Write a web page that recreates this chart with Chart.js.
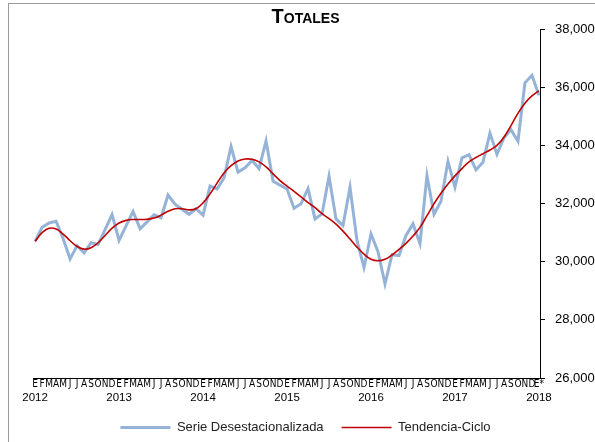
<!DOCTYPE html>
<html lang="es">
<head>
<meta charset="UTF-8">
<title>Totales</title>
<script src="https://cdn.jsdelivr.net/npm/chart.js"></script>
<style>
  html, body { margin: 0; padding: 0; background: #fff; overflow: hidden; }
  #wrap { position: relative; width: 595px; height: 442px; }
  #frame { position: absolute; left: 8px; top: 3px; width: 620px; height: 470px; border: 1px solid #9a9a9a; pointer-events: none; }
</style>
</head>
<body>
<div id="wrap">
  <canvas id="chart" width="595" height="442"></canvas>
  <div id="frame"></div>
</div>
<script>
// etiquetas del eje X
const mesesLetras = ['E','F','M','A','M','J','J','A','S','O','N','D'];
const anios = ['2012','2013','2014','2015','2016','2017','2018'];

// ene-2012 ... ene-2018 (73 meses)
const serieDesest = [
  30700, 31180, 31330, 31390, 30800, 30090, 30550, 30300, 30650, 30590, 31100, 31620,
  30730, 31230, 31730, 31130, 31370, 31610, 31510, 32290, 31980, 31800, 31630, 31820,
  31600, 32600, 32500, 32880, 33960, 33080, 33230, 33480, 33200, 34150, 32770, 32630,
  32500, 31840, 31990, 32510, 31470, 31640, 32940, 31470, 31240, 32560, 30720, 29800,
  30950, 30340, 29230, 30240, 30210, 30900, 31300, 30620, 32960, 31630, 32080, 33450,
  32560, 33570, 33680, 33160, 33420, 34420, 33690, 34260, 34540, 34140, 36150, 36410,
  35720
];
const tendenciaCiclo = [
  30700, 31000, 31150, 31120, 30950, 30720, 30520, 30430, 30480, 30650, 30900, 31150,
  31330, 31420, 31450, 31450, 31460, 31500, 31600, 31730, 31820, 31820, 31780, 31820,
  32020, 32330, 32700, 33050, 33300, 33460, 33530, 33520, 33430, 33260, 33020, 32790,
  32600, 32420, 32230, 32030, 31860, 31650, 31480, 31290, 31050, 30780, 30500, 30260,
  30080, 30030, 30080, 30230, 30420, 30630, 30880, 31180, 31580, 31990, 32350, 32670,
  32950, 33200, 33430, 33580, 33710, 33840, 34000, 34280, 34680, 35100, 35450, 35700,
  35870
];

const toXY = arr => arr.map((v, i) => ({ x: i, y: v }));
const FONT = "'Liberation Sans', Arial, sans-serif";
const xMin = -0.3, xMax = 72.15;

new Chart(document.getElementById('chart').getContext('2d'), {
  type: 'line',
  data: {
    datasets: [
      {
        label: 'Serie Desestacionalizada',
        data: toXY(serieDesest),
        borderColor: '#95B3D7',
        backgroundColor: '#95B3D7',
        borderWidth: 3,
        pointRadius: 0,
        tension: 0,
        yAxisID: 'y',
        order: 2
      },
      {
        label: 'Tendencia-Ciclo',
        data: toXY(tendenciaCiclo),
        borderColor: '#C00000',
        backgroundColor: '#C00000',
        borderWidth: 1.6,
        pointRadius: 0,
        tension: 0.4,
        yAxisID: 'y',
        order: 1
      }
    ]
  },
  options: {
    responsive: false,
    devicePixelRatio: 1,
    animation: false,
    layout: { padding: { left: 16, right: 0, top: 0, bottom: -2 } },
    plugins: {
      title: {
        display: true,
        text: 'Totales',
        color: '#000',
        font: { family: FONT, size: 20, weight: 'small-caps bold' },
        padding: { top: 5, bottom: 0 }
      },
      legend: {
        position: 'bottom',
        labels: {
          color: '#222',
          font: { family: FONT, size: 13 },
          usePointStyle: true,
          pointStyle: 'line',
          pointStyleWidth: 50,
          padding: 18,
          sort: (a, b) => a.datasetIndex - b.datasetIndex
        }
      },
      tooltip: { enabled: false }
    },
    scales: {
      x: {
        type: 'linear',
        position: 'bottom',
        min: xMin,
        max: xMax,
        weight: 0,
        grid: { display: false, drawTicks: false },
        border: { display: true, color: '#000', width: 1 },
        afterBuildTicks: s => { s.ticks = serieDesest.map((v, i) => ({ value: i })); },
        afterFit: s => { s.height = 13; },
        ticks: {
          autoSkip: false,
          maxRotation: 0,
          padding: 0,
          color: '#000',
          font: { family: "'Liberation Sans Narrow', 'DejaVu Sans Condensed', sans-serif", size: 10 },
          callback: v => (v === serieDesest.length - 1 ? 'E*' : mesesLetras[v % 12])
        }
      },
      xAnio: {
        type: 'linear',
        position: 'bottom',
        min: xMin,
        max: xMax,
        weight: 1,
        grid: { display: false, drawTicks: false },
        border: { display: false },
        afterBuildTicks: s => { s.ticks = anios.map((a, i) => ({ value: i * 12 })); },
        afterFit: s => { s.height = 12; },
        ticks: {
          autoSkip: false,
          maxRotation: 0,
          padding: 0,
          color: '#000',
          font: { family: FONT, size: 11.5 },
          callback: v => anios[v / 12]
        }
      },
      yl: {
        type: 'linear',
        position: 'left',
        display: true,
        grid: { display: false, drawTicks: false },
        border: { display: false },
        ticks: { display: false },
        afterFit: s => { s.width = 17; }
      },
      y: {
        type: 'linear',
        position: 'right',
        min: 26000,
        max: 38000,
        grid: { display: true, drawOnChartArea: false, drawTicks: true, tickLength: 5, color: '#000' },
        border: { display: true, color: '#000', width: 1 },
        afterFit: s => { s.width = 55; },
        ticks: {
          stepSize: 2000,
          padding: 10,
          color: '#000',
          font: { family: FONT, size: 13 },
          callback: v => v.toLocaleString('en-US')
        }
      }
    }
  }
});
</script>
</body>
</html>
